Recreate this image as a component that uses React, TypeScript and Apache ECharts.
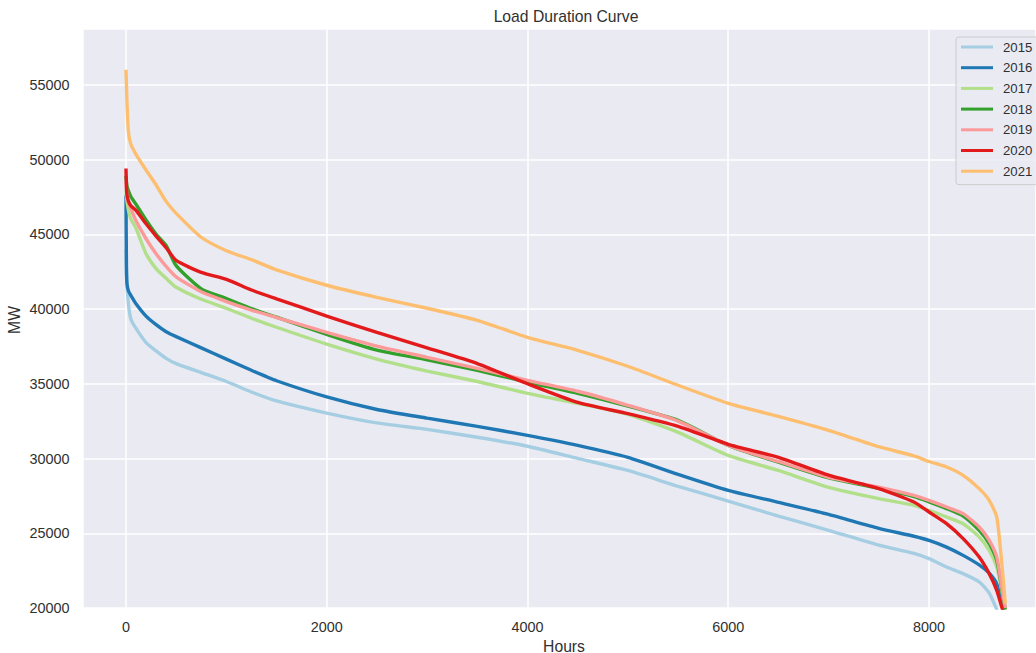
import React, { useEffect, useRef } from "react";
import * as echarts from "echarts";

const HOURS = [0, 5, 10, 25, 50, 100, 200, 300, 400, 500, 750, 1000, 1250, 1500, 2000, 2500, 3000, 3500, 4000, 4500, 5000, 5500, 6000, 6500, 7000, 7500, 7850, 8000, 8175, 8340, 8500, 8600, 8675, 8725, 8760];

const Y2015 = [44000, 42500, 41700, 40300, 39300, 38700, 37750, 37200, 36700, 36350, 35750, 35150, 34450, 33850, 33040, 32380, 31950, 31420, 30820, 30010, 29200, 28140, 27150, 26150, 25200, 24200, 23650, 23300, 22740, 22300, 21750, 21000, 19900, 19000, 18500];
const Y2016 = [47600, 42800, 41700, 41200, 40900, 40350, 39520, 38950, 38480, 38150, 37400, 36650, 35900, 35200, 34120, 33280, 32700, 32150, 31550, 30880, 30080, 28940, 27870, 27070, 26260, 25330, 24800, 24525, 24075, 23520, 22880, 22330, 21620, 20290, 19300];
const Y2017 = [48000, 47500, 47200, 46600, 46000, 45400, 43700, 42700, 42050, 41450, 40650, 40050, 39380, 38780, 37650, 36650, 35850, 35150, 34360, 33690, 32950, 31750, 30210, 29200, 28070, 27315, 26870, 26530, 26085, 25640, 24745, 23855, 22740, 21200, 19800];
const Y2018 = [48900, 48500, 48200, 47900, 47500, 47000, 45950, 45000, 44250, 42900, 41350, 40700, 40030, 39450, 38300, 37250, 36600, 35900, 35100, 34360, 33500, 32550, 30880, 29750, 28700, 28000, 27450, 27100, 26650, 26150, 25190, 24300, 23180, 21300, 19900];
const Y2019 = [48500, 48000, 47635, 47100, 46700, 45900, 44700, 43700, 42850, 42150, 41150, 40500, 39930, 39430, 38440, 37520, 36770, 36030, 35230, 34500, 33560, 32500, 30880, 29800, 28740, 28090, 27535, 27200, 26755, 26310, 25415, 24525, 23405, 21400, 20000];
const Y2020 = [49400, 48200, 47635, 47200, 46900, 46600, 45700, 44880, 44100, 43250, 42450, 41980, 41270, 40680, 39530, 38430, 37400, 36350, 35000, 33750, 33000, 32150, 30950, 30080, 28880, 27985, 27090, 26420, 25640, 24640, 23405, 22295, 21180, 20060, 19300];
const Y2021 = [56000, 55000, 53800, 51800, 51000, 50350, 49300, 48300, 47200, 46400, 44800, 43900, 43300, 42620, 41590, 40780, 40050, 39240, 38110, 37240, 36170, 34900, 33690, 32820, 31880, 30790, 30170, 29800, 29430, 28875, 27985, 27200, 26085, 23000, 20300];

const YEARS = ["2015", "2016", "2017", "2018", "2019", "2020", "2021"];
const SERIES_VALUES = [Y2015, Y2016, Y2017, Y2018, Y2019, Y2020, Y2021];
const COLORS = ["#a6cee3", "#1f78b4", "#b2df8a", "#33a02c", "#fb9a99", "#e31a1c", "#fdbf6f"];

const X_TICKS = [0, 2000, 4000, 6000, 8000];

const FONT = "'Liberation Sans', Arial, sans-serif";
const TXT = "#303030";

export default function App() {
  const ref = useRef<HTMLDivElement>(null);
  useEffect(() => {
    if (!ref.current) return;
    const chart = echarts.init(ref.current, undefined, { renderer: "svg" });
    const series = YEARS.map((name, i) => ({
      name,
      type: "line",
      data: HOURS.map((h, j) => [h, SERIES_VALUES[i][j]]),
      showSymbol: false,
      symbol: "none",
      smooth: 0.2,
      lineStyle: { width: 3.4, color: COLORS[i] },
      itemStyle: { color: COLORS[i] },
      clip: true,
    }));
    chart.setOption({
      animation: false,
      backgroundColor: "#ffffff",
      textStyle: { fontFamily: FONT },
      grid: {
        left: 83,
        right: 0,
        top: 29,
        bottom: 45,
        show: true,
        backgroundColor: "#eaeaf2",
        borderWidth: 0,
      },
      xAxis: {
        type: "value",
        min: -428,
        max: 9066,
        splitNumber: 5,
        minInterval: 2000,
        maxInterval: 2000,
        axisLine: { show: false },
        axisTick: { show: false },
        splitLine: { show: true, lineStyle: { color: "#ffffff", width: 1.5 } },
        axisLabel: {
          showMinLabel: false,
          showMaxLabel: false,
          margin: 12,
          color: TXT,
          fontSize: 14.4,
          fontFamily: FONT,
          formatter: (v: number) => (X_TICKS.includes(v) ? String(v) : ""),
        },
      },
      yAxis: {
        type: "value",
        min: 20000,
        max: 58730,
        interval: 5000,
        axisLine: { show: false },
        axisTick: { show: false },
        splitLine: { show: true, lineStyle: { color: "#ffffff", width: 1.5 } },
        axisLabel: {
          showMaxLabel: false,
          margin: 13.5,
          color: TXT,
          fontSize: 14.4,
          fontFamily: FONT,
          formatter: (v: number) => (v % 5000 === 0 ? String(v) : ""),
        },
      },
      legend: {
        data: YEARS,
        orient: "vertical",
        left: 956,
        top: 37,
        icon: "rect",
        itemWidth: 32,
        itemHeight: 3,
        itemGap: 5.7,
        padding: [2.5, 6, 6, 5],
        backgroundColor: "rgba(234,234,242,0.8)",
        borderColor: "#cccccc",
        borderWidth: 1,
        borderRadius: 3,
        textStyle: { color: TXT, fontSize: 13.2, fontFamily: FONT, lineHeight: 15, padding: [0, 0, 0, 5] },
      },
      graphic: [
        {
          type: "text",
          x: 566,
          y: 16,
          style: { text: "Load Duration Curve", fill: TXT, font: `15.7px ${FONT}`, textAlign: "center", textVerticalAlign: "middle" },
        },
        {
          type: "text",
          x: 564,
          y: 646,
          style: { text: "Hours", fill: TXT, font: `15.7px ${FONT}`, textAlign: "center", textVerticalAlign: "middle" },
        },
        {
          type: "text",
          x: 14.5,
          y: 320,
          rotation: Math.PI / 2,
          style: { text: "MW", fill: TXT, font: `15.7px ${FONT}`, textAlign: "center", textVerticalAlign: "middle" },
        },
      ],
      series,
    });
    return () => chart.dispose();
  }, []);
  return <div ref={ref} style={{ position: "absolute", left: 0, top: 0, width: 1036, height: 653 }} />;
}
